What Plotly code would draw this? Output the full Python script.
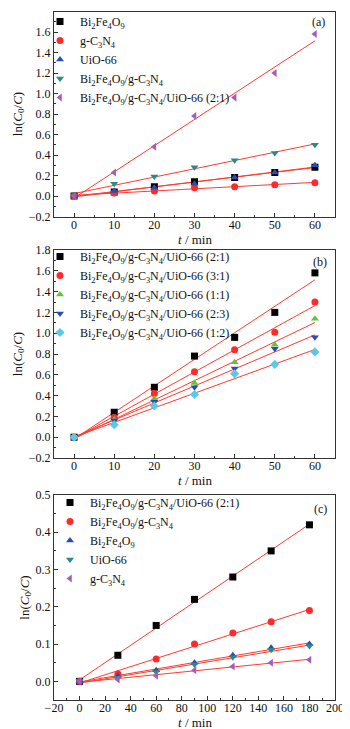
import numpy as np
import plotly.graph_objects as go

# ---------- data ----------
t_a = [0, 10, 20, 30, 40, 50, 60]
a_names = ["Bi<sub>2</sub>Fe<sub>4</sub>O<sub>9</sub>",
           "g-C<sub>3</sub>N<sub>4</sub>",
           "UiO-66",
           "Bi<sub>2</sub>Fe<sub>4</sub>O<sub>9</sub>/g-C<sub>3</sub>N<sub>4</sub>",
           "Bi<sub>2</sub>Fe<sub>4</sub>O<sub>9</sub>/g-C<sub>3</sub>N<sub>4</sub>/UiO-66 (2:1)"]
a_bfo = [0, 0.04, 0.09, 0.14, 0.18, 0.23, 0.28]
a_gcn = [0, 0.03, 0.05, 0.08, 0.09, 0.11, 0.13]
a_uio = [0, 0.05, 0.08, 0.12, 0.18, 0.23, 0.30]
a_bfo_gcn = [0, 0.12, 0.19, 0.28, 0.35, 0.42, 0.50]
a_comp21 = [0, 0.23, 0.48, 0.78, 0.96, 1.20, 1.58]

t_b = [0, 10, 20, 30, 40, 50, 60]
b_names = ["Bi<sub>2</sub>Fe<sub>4</sub>O<sub>9</sub>/g-C<sub>3</sub>N<sub>4</sub>/UiO-66 (2:1)",
           "Bi<sub>2</sub>Fe<sub>4</sub>O<sub>9</sub>/g-C<sub>3</sub>N<sub>4</sub>/UiO-66 (3:1)",
           "Bi<sub>2</sub>Fe<sub>4</sub>O<sub>9</sub>/g-C<sub>3</sub>N<sub>4</sub>/UiO-66 (1:1)",
           "Bi<sub>2</sub>Fe<sub>4</sub>O<sub>9</sub>/g-C<sub>3</sub>N<sub>4</sub>/UiO-66 (2:3)",
           "Bi<sub>2</sub>Fe<sub>4</sub>O<sub>9</sub>/g-C<sub>3</sub>N<sub>4</sub>/UiO-66 (1:2)"]
b_21 = [0, 0.24, 0.48, 0.78, 0.96, 1.20, 1.58]
b_31 = [0, 0.19, 0.42, 0.63, 0.84, 1.01, 1.30]
b_11 = [0, 0.17, 0.37, 0.52, 0.72, 0.89, 1.14]
b_23 = [0, 0.16, 0.34, 0.48, 0.66, 0.85, 0.96]
b_12 = [0, 0.12, 0.30, 0.41, 0.61, 0.70, 0.82]

t_c = [0, 30, 60, 90, 120, 150, 180]
c_names = ["Bi<sub>2</sub>Fe<sub>4</sub>O<sub>9</sub>/g-C<sub>3</sub>N<sub>4</sub>/UiO-66 (2:1)",
           "Bi<sub>2</sub>Fe<sub>4</sub>O<sub>9</sub>/g-C<sub>3</sub>N<sub>4</sub>",
           "Bi<sub>2</sub>Fe<sub>4</sub>O<sub>9</sub>",
           "UiO-66",
           "g-C<sub>3</sub>N<sub>4</sub>"]
c_comp21 = [0, 0.07, 0.15, 0.22, 0.28, 0.35, 0.42]
c_bfo_gcn = [0, 0.02, 0.06, 0.10, 0.13, 0.16, 0.19]
c_bfo = [0, 0.015, 0.03, 0.05, 0.07, 0.09, 0.10]
c_uio = [0, 0.01, 0.025, 0.045, 0.065, 0.085, 0.095]
c_gcn = [0, 0.005, 0.015, 0.03, 0.04, 0.05, 0.058]

x_title = "<i>t</i> / min"
y_title = "ln(<i>C</i><sub>0</sub>/<i>C</i>)"

# ---------- layout geometry ----------
# targets are given in page pixels; the html body adds an 8px margin
OFF = 8
W, H = 350, 729
PL, PR, PT, PB = 54, 335, 10, 700          # plot-area bounds in page pixels
ML, MR = PL - OFF, W - (PR - OFF)
MT, MB = PT - OFF, H - (PB - OFF)
PW, PH = PR - PL, PB - PT


def px_x(p):
    return (p - PL) / PW


def px_y(p):
    return (PB - p) / PH


FONT = "Liberation Serif"
LINE = "#ff3b30"
panels = [
    dict(t=t_a, names=a_names, ys=[a_bfo, a_gcn, a_uio, a_bfo_gcn, a_comp21],
         symbols=["square", "circle", "triangle-up", "triangle-down", "triangle-left"],
         colors=["#000000", "#ff2a2a", "#2a4db5", "#2a8a86", "#a65cb8"],
         xr=[-5, 65], xd=10, xminor=5, yr=[-0.2, 1.8], yd=0.2, yminor=0.1,
         top=11.5, bot=216.5, leg=(40, 7), lab=(318, 22), xt=239, label="(a)"),
    dict(t=t_b, names=b_names, ys=[b_21, b_31, b_11, b_23, b_12],
         symbols=["square", "circle", "triangle-up", "triangle-down", "diamond"],
         colors=["#000000", "#ff2a2a", "#66c23a", "#2a4db5", "#5cc8e6"],
         xr=[-5, 65], xd=10, xminor=5, yr=[-0.2, 1.8], yd=0.2, yminor=0.1,
         top=250, bot=458, leg=(40, 242), lab=(320, 262), xt=480, label="(b)"),
    dict(t=t_c, names=c_names, ys=[c_comp21, c_bfo_gcn, c_bfo, c_uio, c_gcn],
         symbols=["square", "circle", "triangle-up", "triangle-down", "triangle-left"],
         colors=["#000000", "#ff2a2a", "#2a4db5", "#2a8a86", "#a65cb8"],
         xr=[-20, 200], xd=20, xminor=10, yr=[-0.05, 0.5], yd=0.1, yminor=0.05,
         top=495, bot=700, leg=(50, 488), lab=(320, 509), xt=722.5, label="(c)"),
]

fig = go.Figure()
for i, p in enumerate(panels):
    n = i + 1
    xa = "x" if n == 1 else f"x{n}"
    ya = "y" if n == 1 else f"y{n}"
    lg = "legend" if n == 1 else f"legend{n}"
    t = np.array(p["t"], dtype=float)
    # linear fit lines
    for y in p["ys"]:
        k, b = np.polyfit(t, np.array(y, dtype=float), 1)
        xs = [t.min(), t.max()]
        fig.add_trace(go.Scatter(x=xs, y=[k * v + b for v in xs], mode="lines",
                                 line=dict(color=LINE, width=1), showlegend=False,
                                 xaxis=xa, yaxis=ya, hoverinfo="skip"))
    for name, y, s, c in zip(p["names"], p["ys"], p["symbols"], p["colors"]):
        fig.add_trace(go.Scatter(x=p["t"], y=y, mode="markers", name=name,
                                 marker=dict(symbol=s, color=c, size=7, line=dict(width=0)),
                                 xaxis=xa, yaxis=ya, legend=lg))
    axcommon = dict(showline=True, linecolor="#333333", linewidth=1, mirror=True,
                    ticks="inside", ticklen=4, tickcolor="#333333", showgrid=False,
                    zeroline=False, automargin=False,
                    tickfont=dict(family=FONT, size=12, color="#111111"))
    xkey = "xaxis" if n == 1 else f"xaxis{n}"
    ykey = "yaxis" if n == 1 else f"yaxis{n}"
    fig.update_layout(**{
        xkey: dict(axcommon, domain=[0, 1], range=p["xr"], dtick=p["xd"], tick0=0,
                   anchor=ya, ticklabelstandoff=-3,
                   minor=dict(ticks="inside", ticklen=2, dtick=p["xminor"], tick0=0,
                              tickcolor="#333333")),
        ykey: dict(axcommon, domain=[px_y(p["bot"]), px_y(p["top"])], range=p["yr"],
                   dtick=p["yd"], tick0=0, anchor=xa, tickformat=".1f",
                   minor=dict(ticks="inside", ticklen=2, dtick=p["yminor"], tick0=0,
                              tickcolor="#333333"),
                   title=dict(text=y_title, standoff=3,
                              font=dict(family=FONT, size=13, color="#111111"))),
        lg: dict(x=px_x(p["leg"][0]), xanchor="left",
                 y=px_y(p["leg"][1]), yanchor="top",
                 bgcolor="rgba(0,0,0,0)", borderwidth=0, tracegroupgap=0,
                 font=dict(family=FONT, size=12, color="#111111"),
                 itemwidth=30),
    })
    fig.add_annotation(text=p["label"], xref="paper", yref="paper",
                       x=px_x(p["lab"][0]), y=px_y(p["lab"][1]), showarrow=False,
                       xanchor="center", yanchor="middle",
                       font=dict(family=FONT, size=12, color="#111111"))
    # x-axis title
    fig.add_annotation(text=x_title, xref="paper", yref="paper",
                       x=0.5, y=px_y(p["xt"]), showarrow=False,
                       xanchor="center", yanchor="middle",
                       font=dict(family=FONT, size=13, color="#111111"))

fig.update_layout(width=W, height=H, margin=dict(l=ML, r=MR, t=MT, b=MB, autoexpand=False),
                  plot_bgcolor="white", paper_bgcolor="white",
                  font=dict(family=FONT, size=12, color="#111111"))
fig.write_html("out.html")
